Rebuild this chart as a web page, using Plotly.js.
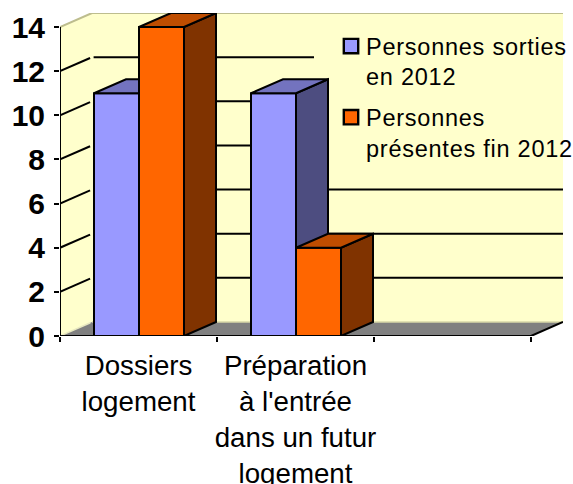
<!DOCTYPE html>
<html><head><meta charset="utf-8">
<script src="https://cdn.plot.ly/plotly-3.0.1.min.js"></script>
<style>
html,body{margin:0;padding:0;background:#fff;overflow:hidden}
.legendtext{letter-spacing:.75px}
.groups:nth-child(1) .legendpoints path{transform:translate(25px,-15px) scale(1.2)}
.groups:nth-child(2) .legendpoints path{transform:translate(25px,-15px) scale(1.2)}
</style></head><body><div id="c" style="width:573px;height:484px"></div>
<script>
const categories = ["Dossiers<br>logement", "Préparation<br>à l'entrée<br>dans un futur<br>logement", ""];
const seriesNames = ["Personnes sorties<br>en 2012", "Personnes<br>présentes fin 2012"];
const sorties = [11, 11, null];
const presentes = [14, 4, null];
const yTicks = [0, 2, 4, 6, 8, 10, 12, 14];

const pxX = 157, pxY = 22.07;           // one category / one unit in pixels
const depthX = 32 / pxX, depthY = 14 / pxY;
const xMax = 3 + depthX, yTop = 14, yMax = 14 + depthY;
const barW = 45 / pxX, nudge = 0.5 / pxX;
const centres = categories.map((_, i) => i + 0.5);
const xr = [0, xMax], yr = [0, yMax];

const poly = (xs, ys, fill, line, lw, xa, ya) => ({
  type: 'scatter', mode: line ? 'lines' : 'none', x: xs, y: ys, fill: 'toself', fillcolor: fill,
  line: {color: line || fill, width: lw || 0, shape: 'linear'}, showlegend: false, hoverinfo: 'skip',
  cliponaxis: false, xaxis: xa || 'x', yaxis: ya || 'y'
});
const seg = (xs, ys, color, w) => ({
  type: 'scatter', mode: 'lines', x: xs, y: ys, line: {color: color, width: w}, showlegend: false,
  hoverinfo: 'skip', cliponaxis: false, xaxis: 'x', yaxis: 'y'
});

const traces = [];
// walls and floor
traces.push(poly([0, depthX, depthX, 0, 0], [0, depthY, yTop + depthY, yTop, 0], '#FFFFCC'));
traces.push(poly([depthX, xMax, xMax, depthX, depthX], [depthY, depthY, yTop + depthY, yTop + depthY, depthY], '#FFFFCC'));
traces.push(poly([0, depthX, xMax, 3, 0], [0, depthY, depthY, 0, 0], '#808080'));
traces.push(seg([0, depthX, xMax], [yTop, yTop + depthY, yTop + depthY], '#BDBD8E', 2));
traces.push(seg([0, depthX * 0.95], [0, depthY * 0.95], '#E8E8C0', 1.5));
traces.push(seg([depthX, xMax], [depthY, depthY], '#D8D8A8', 1.5));
// gridlines
yTicks.filter(v => v > 0 && v < 14).forEach(v => {
  traces.push(seg([0, depthX * 0.94], [v, v + depthY * 0.94], '#000', 2));
  traces.push(seg([depthX * 1.05, xMax], [v + depthY, v + depthY], '#000', 2));
});
// legend backing
const lx1 = (314 - 60) / pxX, ly0 = (336 - 172) / pxY, ly1 = (336 - 20) / pxY;
traces.push(poly([lx1, xMax, xMax, lx1, lx1], [ly0, ly0, ly1, ly1, ly0], '#FFFFCC'));
// axes
traces.push(seg([0, 0], [0, yTop], '#000', 2));
traces.push(seg([0, 3], [0, 0], '#000', 2));
traces.push(seg([3, xMax], [0, depthY], '#000', 2));

function addSeries(vals, name, front, side, top, offset, xa, ya, group) {
  traces.push({
    type: 'bar', x: centres, y: vals, name: name, width: barW, offset: offset,
    marker: {color: front, line: {color: '#000', width: 2}}, xaxis: xa, yaxis: ya,
    legendgroup: group, hoverinfo: 'skip'
  });
  vals.forEach((v, i) => {
    if (v === null) return;
    const l = centres[i] + offset, r = l + barW;
    traces.push(poly([r, r + depthX, r + depthX, r, r], [0, depthY, v + depthY, v, 0], side, '#000', 2, xa, ya));
    traces.push(poly([l, l + depthX, r + depthX, r, l], [v, v + depthY, v + depthY, v, v], top, '#000', 2, xa, ya));
  });
}
addSeries(sorties, seriesNames[0], '#9999FF', '#4D4D80', '#7373BF', -barW + nudge, 'x2', 'y2', 'a');
addSeries(presentes, seriesNames[1], '#FF6600', '#803300', '#BF4D00', nudge, 'x3', 'y3', 'b');

const hidden = (o) => Object.assign({visible: false, fixedrange: true}, o);
const layout = {
  width: 573, height: 484, autosize: false,
  margin: {l: 60, r: 10, t: 13, b: 148, pad: 0, autoexpand: false},
  paper_bgcolor: '#fff', plot_bgcolor: 'rgba(0,0,0,0)',
  showlegend: true, barmode: 'overlay',
  font: {family: '"Liberation Sans", Arial, sans-serif', color: '#000'},
  xaxis: {range: xr, tickmode: 'array', tickvals: centres, ticktext: categories, ticks: '', tickangle: 0,
    tickfont: {size: 27.7, color: '#000'}, showgrid: false, zeroline: false, showline: false, fixedrange: true,
    ticklabelstandoff: 10,
    minor: {tickmode: 'array', tickvals: [0, 1, 2, 3], ticks: 'outside', ticklen: 5, tickwidth: 2, tickcolor: '#000', showgrid: false}},
  yaxis: {range: yr, tickmode: 'array', tickvals: yTicks, ticktext: yTicks.map(String), ticks: 'outside', ticklen: 5,
    tickwidth: 2, tickcolor: '#000', tickfont: {size: 30, color: '#000', weight: 700}, showgrid: false, zeroline: false,
    showline: false, fixedrange: true, ticklabelstandoff: 3},
  xaxis2: hidden({range: xr, overlaying: 'x'}),
  yaxis2: hidden({range: yr, overlaying: 'y'}),
  xaxis3: hidden({range: xr, overlaying: 'x'}),
  yaxis3: hidden({range: yr, overlaying: 'y'}),
  legend: {x: (326 - 60) / 503, xanchor: 'left', y: 1 - (24 - 13) / 323, yanchor: 'top', bgcolor: 'rgba(0,0,0,0)',
    borderwidth: 0, font: {size: 23.5, color: '#000'}, tracegroupgap: 7, traceorder: 'grouped', itemclick: false, itemdoubleclick: false},
  hovermode: false
};
Plotly.newPlot('c', traces, layout, {displayModeBar: false, staticPlot: true});
</script></body></html>
